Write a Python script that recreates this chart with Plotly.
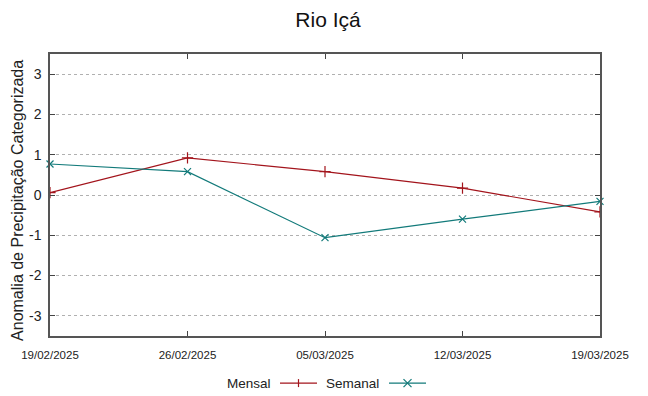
import plotly.graph_objects as go

dates = ["2025-02-19", "2025-02-26", "2025-03-05", "2025-03-12", "2025-03-19"]
tick_labels = ["19/02/2025", "26/02/2025", "05/03/2025", "12/03/2025", "19/03/2025"]
mensal = [0.06, 0.92, 0.58, 0.17, -0.42]
semanal = [0.77, 0.58, -1.06, -0.60, -0.16]
y_ticks = [-3, -2, -1, 0, 1, 2, 3]
y_tick_labels = ["-3", "-2", "-1", "0", "1", "2", "3"]

RED = "#a3141c"
TEAL = "#127a7a"
FONT = "Liberation Sans Narrow, Liberation Sans, Arial, sans-serif"

# page body has an 8px margin, so the figure is 8px smaller and shifted
W, H = 640, 388
ML, MR, MT, MB = 42, 48, 46, 60
PW = W - ML - MR
PH = H - MT - MB

fig = go.Figure()
fig.add_trace(go.Scatter(x=dates, y=mensal, mode="lines+markers", name="Mensal",
                         line=dict(color=RED, width=1.2),
                         marker=dict(symbol="cross-thin", size=8, line=dict(color=RED, width=1.2)),
                         cliponaxis=True, showlegend=False))
fig.add_trace(go.Scatter(x=dates, y=semanal, mode="lines+markers", name="Semanal",
                         line=dict(color=TEAL, width=1.2),
                         marker=dict(symbol="x-thin", size=7, line=dict(color=TEAL, width=1.2)),
                         cliponaxis=False, showlegend=False))

# custom gnuplot-style legend (text then sample); page x coords converted to paper
def px(xpage):
    return (xpage - 8 - ML) / PW

legend_y = -0.167
fig.add_annotation(xref="paper", yref="paper", x=px(273), y=legend_y, text="Mensal",
                   showarrow=False, xanchor="right", yanchor="middle",
                   font=dict(family=FONT, size=13.5, color="#222"))
fig.add_annotation(xref="paper", yref="paper", x=px(381), y=legend_y, text="Semanal",
                   showarrow=False, xanchor="right", yanchor="middle",
                   font=dict(family=FONT, size=13.5, color="#222"))
for (x0, x1, col, sym) in [(280, 317, RED, "+"), (389, 426, TEAL, "x")]:
    p0, p1 = px(x0), px(x1)
    fig.add_shape(type="line", xref="paper", yref="paper", x0=p0, x1=p1, y0=legend_y, y1=legend_y,
                  line=dict(color=col, width=1.2))
    xc = (p0 + p1) / 2
    h = 4 / PH
    w = 4 / PW
    if sym == "+":
        fig.add_shape(type="line", xref="paper", yref="paper", x0=xc, x1=xc, y0=legend_y - h, y1=legend_y + h,
                      line=dict(color=col, width=1.2))
    else:
        fig.add_shape(type="line", xref="paper", yref="paper", x0=xc - w, x1=xc + w, y0=legend_y - h, y1=legend_y + h,
                      line=dict(color=col, width=1.2))
        fig.add_shape(type="line", xref="paper", yref="paper", x0=xc - w, x1=xc + w, y0=legend_y + h, y1=legend_y - h,
                      line=dict(color=col, width=1.2))

# y axis title as rotated annotation
fig.add_annotation(xref="paper", yref="paper", x=px(18), y=0.479, text="Anomalia de Precipitação Categorizada",
                   textangle=-90, showarrow=False, xanchor="center", yanchor="middle",
                   font=dict(family=FONT, size=16, color="#222"))

fig.update_layout(
    width=W, height=H,
    margin=dict(l=ML, r=MR, t=MT, b=MB, pad=0),
    paper_bgcolor="white", plot_bgcolor="white",
    title=dict(text="Rio Içá", x=0.5, xanchor="center", y=1 - 12 / H, yanchor="middle",
               font=dict(family=FONT, size=21, color="#111")),
    font=dict(family=FONT, color="#222"),
)
fig.update_xaxes(type="date", range=[dates[0], dates[-1]], tickvals=dates, ticktext=tick_labels,
                 ticks="inside", ticklen=5, tickcolor="#444", showgrid=False, zeroline=False,
                 showline=True, linecolor="#555", linewidth=1.5, mirror="ticks", automargin=False,
                 ticklabelstandoff=7,
                 tickfont=dict(family=FONT, size=11.5, color="#222"))
fig.update_yaxes(range=[-3.5, 3.5], tickvals=y_ticks, ticktext=y_tick_labels,
                 ticks="inside", ticklen=5, tickcolor="#444",
                 showgrid=True, gridcolor="#b0b0b0", griddash="dot", gridwidth=1, zeroline=False,
                 showline=True, linecolor="#555", linewidth=1.5, mirror="ticks", automargin=False,
                 ticklabelstandoff=4,
                 tickfont=dict(family=FONT, size=14, color="#222"))

fig.write_html("out.html")
